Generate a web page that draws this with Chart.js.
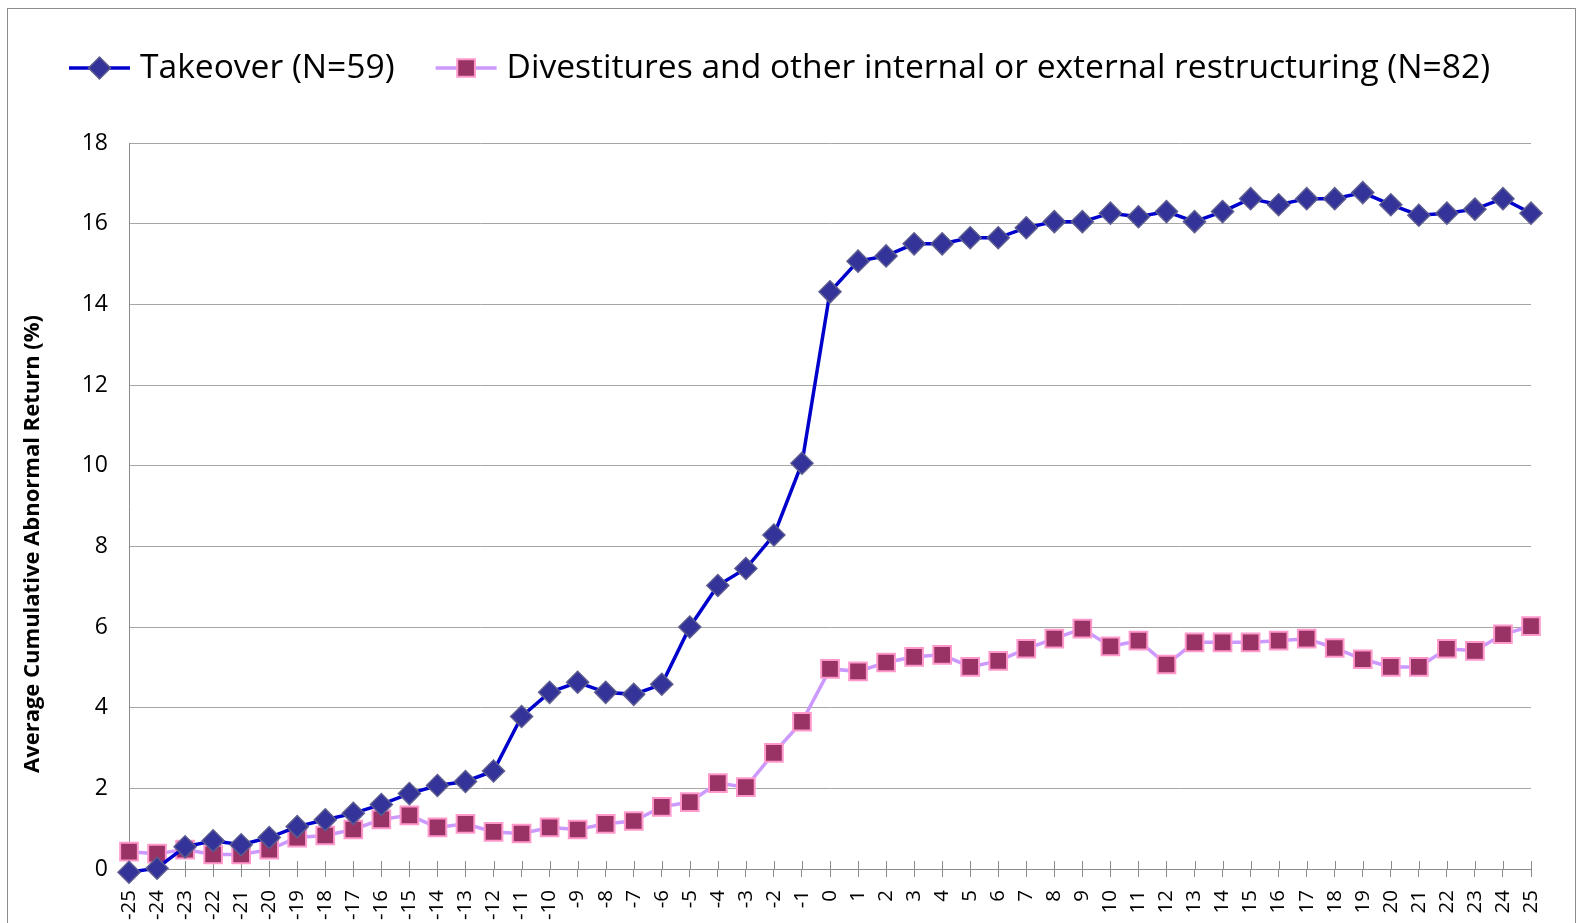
<!DOCTYPE html>
<html>
<head>
<meta charset="utf-8">
<script src="https://cdn.jsdelivr.net/npm/chart.js@4.4.1/dist/chart.umd.min.js"></script>
<style>
  body { margin: 0; background: #fff; }
  canvas { display: block; }
</style>
</head>
<body>
<canvas id="myChart" width="1583" height="923"></canvas>
<script>
// event days around announcement
const eventDays = [
  -25, -24, -23, -22, -21, -20, -19, -18, -17, -16, -15, -14, -13, -12, -11, -10, -9, -8, -7, -6, -5, -4, -3, -2, -1,
  0, 1, 2, 3, 4, 5, 6, 7, 8, 9, 10, 11, 12, 13, 14, 15, 16, 17, 18, 19, 20, 21, 22, 23, 24, 25
];

const takeoverCar = [
  -0.08, 0.02, 0.55, 0.7, 0.6, 0.78, 1.05, 1.22, 1.38, 1.6, 1.87, 2.07, 2.17, 2.43, 3.78, 4.38, 4.63, 4.38, 4.33, 4.58, 6.0, 7.03, 7.45, 8.28, 10.06,
  14.31, 15.07, 15.2, 15.5, 15.5, 15.65, 15.65, 15.9, 16.05, 16.05, 16.26, 16.17, 16.3, 16.05, 16.3, 16.62, 16.47, 16.62, 16.62, 16.77, 16.47, 16.21, 16.26, 16.36, 16.62, 16.26
];

const divestCar = [
  0.43, 0.38, 0.48, 0.36, 0.36, 0.48, 0.78, 0.83, 0.98, 1.23, 1.33, 1.03, 1.12, 0.92, 0.88, 1.03, 0.98, 1.12, 1.19, 1.54, 1.66, 2.13, 2.03, 2.88, 3.65,
  4.96, 4.9, 5.12, 5.26, 5.31, 5.01, 5.16, 5.46, 5.71, 5.96, 5.52, 5.66, 5.07, 5.62, 5.62, 5.62, 5.66, 5.71, 5.48, 5.2, 5.01, 5.01, 5.46, 5.41, 5.82, 6.02
];

const seriesNames = [
  "Takeover (N=59)",
  "Divestitures and other internal or external restructuring (N=82)"
];

const yTitle = "Average Cumulative Abnormal Return (%)";

const FONT = "'Open Sans', sans-serif";

// frame, legend with line + marker, y title, crossing ticks
const excelBits = {
  id: "excelBits",
  beforeDraw(chart) {
    const ctx = chart.ctx;
    ctx.save();
    ctx.fillStyle = "#fff";
    ctx.fillRect(0, 0, chart.width, chart.height);
    ctx.strokeStyle = "#8c8c8c";
    ctx.lineWidth = 1;
    ctx.strokeRect(7.5, 8.5, 1568, 940);
    ctx.restore();
  },
  beforeDatasetsDraw(chart) {
    const ctx = chart.ctx;
    const xs = chart.scales.x;
    const bottom = chart.chartArea.bottom;
    ctx.save();
    ctx.strokeStyle = "#8c8c8c";
    ctx.lineWidth = 1;
    ctx.beginPath();
    for (let i = 0; i < eventDays.length; i++) {
      const px = Math.round(xs.getPixelForTick(i)) + 0.5;
      ctx.moveTo(px, bottom - 8);
      ctx.lineTo(px, bottom);
    }
    ctx.stroke();
    ctx.restore();
  },
  afterDraw(chart) {
    const ctx = chart.ctx;
    const area = chart.chartArea;
    ctx.save();

    // y title
    ctx.translate(33, (area.top + area.bottom) / 2 + 38);
    ctx.rotate(-Math.PI / 2);
    ctx.font = "bold 22px " + FONT;
    ctx.fillStyle = "#000";
    ctx.textAlign = "center";
    ctx.textBaseline = "middle";
    ctx.fillText(yTitle, 0, 0);
    ctx.restore();

    // legend
    ctx.save();
    ctx.font = "33.6px " + FONT;
    ctx.textBaseline = "middle";
    let x = 69;
    const y = 68;
    chart.data.datasets.forEach((ds) => {
      ctx.strokeStyle = ds.borderColor;
      ctx.lineWidth = ds.borderWidth;
      ctx.beginPath();
      ctx.moveTo(x, y);
      ctx.lineTo(x + 61, y);
      ctx.stroke();
      ctx.fillStyle = ds.pointBackgroundColor;
      ctx.strokeStyle = ds.pointBorderColor;
      ctx.lineWidth = ds.pointBorderWidth;
      Chart.helpers.drawPoint(ctx, {
        pointStyle: ds.pointStyle,
        radius: ds.pointRadius,
        borderWidth: ds.pointBorderWidth,
        rotation: 0
      }, x + 30.5, y);
      ctx.fillStyle = "#000";
      ctx.fillText(ds.label, x + 71, y);
      x += 71 + ctx.measureText(ds.label).width + 41;
    });
    ctx.restore();
  }
};

new Chart("myChart", {
  type: "line",
  data: {
    labels: eventDays,
    datasets: [
      {
        label: seriesNames[0],
        data: takeoverCar,
        borderColor: "#0000cc",
        borderWidth: 3.5,
        pointStyle: "rectRot",
        pointRadius: 11,
        pointHoverRadius: 11,
        pointBackgroundColor: "#333399",
        pointBorderColor: "#5c5c8f",
        pointBorderWidth: 1.5,
        tension: 0,
        fill: false,
        clip: false
      },
      {
        label: seriesNames[1],
        data: divestCar,
        borderColor: "#cc99ff",
        borderWidth: 3.5,
        pointStyle: "rect",
        pointRadius: 12.5,
        pointHoverRadius: 12.5,
        pointBackgroundColor: "#993366",
        pointBorderColor: "#ff99cc",
        pointBorderWidth: 2,
        tension: 0,
        fill: false,
        clip: false
      }
    ]
  },
  options: {
    responsive: false,
    animation: false,
    layout: { padding: { top: 143, left: 0, right: 52, bottom: 0 } },
    plugins: {
      legend: { display: false },
      tooltip: { enabled: false }
    },
    scales: {
      x: {
        offset: false,
        grid: {
          drawOnChartArea: false,
          drawTicks: true,
          tickLength: 8,
          color: "#8c8c8c"
        },
        border: { color: "#8c8c8c" },
        ticks: {
          autoSkip: false,
          maxRotation: 90,
          minRotation: 90,
          padding: 13,
          color: "#000",
          font: { family: FONT, size: 20.5 }
        },
        afterFit(scale) { scale.height = 54; }
      },
      y: {
        min: 0,
        max: 18,
        grid: {
          color: "#a6a6a6",
          drawTicks: false,
          tickLength: 0
        },
        border: { color: "#8c8c8c" },
        ticks: {
          stepSize: 2,
          padding: 21,
          color: "#000",
          font: { family: FONT, size: 23 }
        },
        afterFit(scale) { scale.width = 129; }
      }
    }
  },
  plugins: [excelBits]
});
</script>
</body>
</html>
